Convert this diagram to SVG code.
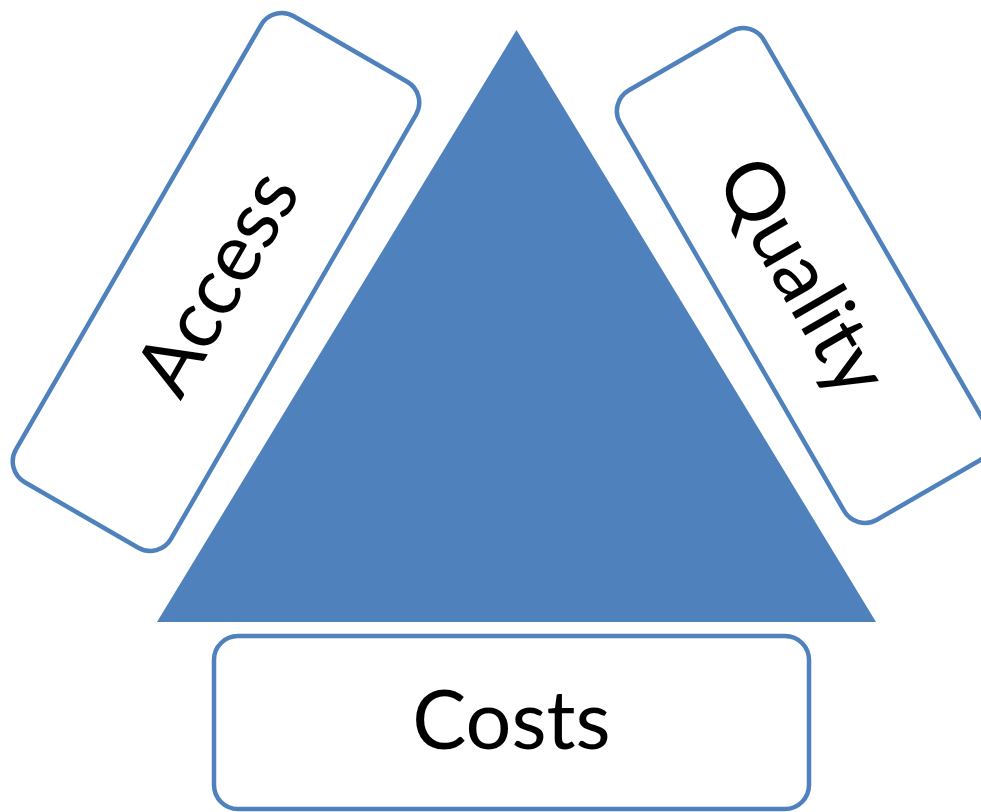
<svg xmlns="http://www.w3.org/2000/svg" width="981" height="812" viewBox="0 0 981 812">
  <style>
    .box { fill: #FFFFFF; stroke: #4F81BD; stroke-width: 4.5; }
    .tri { fill: #4F81BD; }
    .lbl { font-family: Lato, "Open Sans", "Liberation Sans", sans-serif; font-size: 81px; fill: #000000; text-anchor: middle; }
  </style>
  <rect width="981" height="812" fill="#FFFFFF"/>
  <g id="triangle">
    <polygon class="tri" points="516.5,30 157,622 876,622"/>
  </g>
  <g id="access" transform="translate(216,282) rotate(-60)">
    <rect class="box" x="-269" y="-89.5" width="538" height="179" rx="24" ry="24"/>
    <text class="lbl" x="0" y="29">Access</text>
  </g>
  <g id="quality" transform="translate(804,275.5) rotate(60)">
    <rect class="box" x="-248" y="-83" width="496" height="166" rx="24" ry="24"/>
    <text class="lbl" x="0" y="29">Quality</text>
  </g>
  <g id="costs">
    <rect class="box" x="214" y="636" width="595" height="173" rx="24" ry="24"/>
    <text class="lbl" x="511.5" y="749">Costs</text>
  </g>
  <g id="connectors"/>
</svg>
